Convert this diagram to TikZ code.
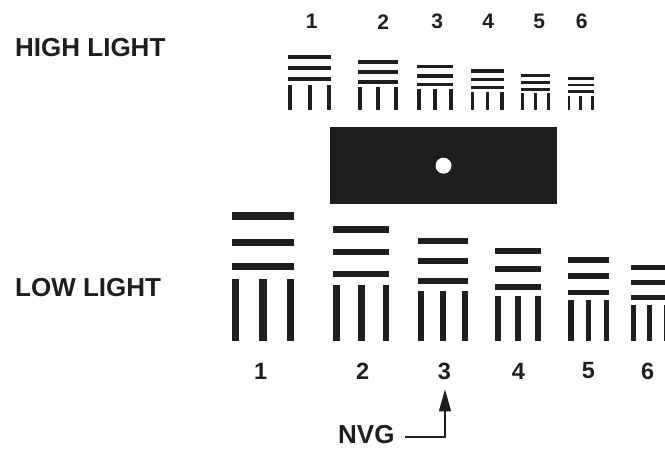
\documentclass[tikz,border=0pt]{standalone}
\usepackage{fontspec}
\setmainfont{Liberation Sans}
\usetikzlibrary{arrows.meta}
\definecolor{ink}{HTML}{1E1E1E}
\newcommand{\usaftgt}[8]{%
  % #1 xl, #2 xr, #3 y1, #4 y2, #5 y3, #6 vtop, #7 bottom, #8 thickness
  \fill[ink] (#1,#3-#8/2) rectangle (#2,#3+#8/2);
  \fill[ink] (#1,#4-#8/2) rectangle (#2,#4+#8/2);
  \fill[ink] (#1,#5-#8/2) rectangle (#2,#5+#8/2);
  \fill[ink] (#1,#6) rectangle (#1+#8,#7);
  \fill[ink] ({(#1+#2)/2-#8/2},#6) rectangle ({(#1+#2)/2+#8/2},#7);
  \fill[ink] (#2-#8,#6) rectangle (#2,#7);
}
\tikzset{
  biglabel/.style={font=\bfseries\fontsize{26}{26}\selectfont, text=ink, inner sep=0pt},
  toplabel/.style={font=\bfseries\fontsize{21}{21}\selectfont, text=ink, inner sep=0pt},
  botlabel/.style={font=\bfseries\fontsize{23.5}{24}\selectfont, text=ink, inner sep=0pt},
  pointer/.style={draw=ink, line width=1.3pt, -{Triangle[length=22pt,width=12pt]}}
}
\begin{document}
\begin{tikzpicture}[x=1pt,y=-1pt]
\useasboundingbox (0,0) rectangle (665,449);
\begin{scope}
\clip (0,0) rectangle (665,449);
% high light targets
\usaftgt{288}{331}{56.7}{67.7}{79}{85}{110}{4}
\usaftgt{358}{398}{62}{71.7}{81.7}{87.3}{110}{3.8}
\usaftgt{417}{452.5}{66.7}{76}{84.7}{89.3}{110}{3.5}
\usaftgt{471}{503.5}{71}{79.3}{87.3}{92}{110}{3.3}
\usaftgt{520.5}{549.5}{75.3}{82.3}{89.3}{93.3}{110}{3}
\usaftgt{567.5}{593.5}{78.7}{85}{91.3}{95.7}{110}{2.8}
% low light targets
\usaftgt{231.7}{294.3}{216}{242.3}{266.7}{279}{340.7}{7.5}
\usaftgt{333.3}{389.3}{229.3}{252}{274}{285}{340.7}{6.8}
\usaftgt{417.7}{468.3}{240.7}{261}{281}{290.7}{340.7}{6.3}
\usaftgt{495}{540.7}{250.7}{269.3}{287}{295.7}{340.7}{5.8}
\usaftgt{568.3}{609}{260}{276}{292.3}{300}{340.7}{5.3}
\usaftgt{630.7}{669}{267.7}{282.7}{297.3}{305}{340.7}{4.8}
\end{scope}
% black occluder
\fill[ink] (330,127.3) rectangle (556.7,204.3);
\fill[white] (443.5,165.7) circle (8);
% side labels
\node[biglabel, anchor=west] (hl) at (15,48) {HIGH LIGHT};
\node[biglabel, anchor=west] (ll) at (15,288) {LOW LIGHT};
% top numbers
\node[toplabel] (t1) at (311.7,21.7) {1};
\node[toplabel] (t2) at (383.3,21.7) {2};
\node[toplabel] (t3) at (437.3,21.7) {3};
\node[toplabel] (t4) at (488.3,21.7) {4};
\node[toplabel] (t5) at (539.3,21.7) {5};
\node[toplabel] (t6) at (581.7,21.7) {6};
% bottom numbers
\node[botlabel] (b1) at (260.7,371) {1};
\node[botlabel] (b2) at (362.7,371) {2};
\node[botlabel] (b3) at (444.3,371) {3};
\node[botlabel] (b4) at (518.3,371) {4};
\node[botlabel] (b5) at (588.3,371) {5};
\node[botlabel] (b6) at (647.7,371) {6};
% NVG pointer
\node[biglabel, anchor=base west] (nvg) at (338,443) {NVG};
\coordinate (s) at (405,437);
\coordinate (corner) at (445,437);
\coordinate (tip) at (445,389.3);
\draw[pointer] (s) -- (corner) -- (tip);
\end{tikzpicture}
\end{document}
